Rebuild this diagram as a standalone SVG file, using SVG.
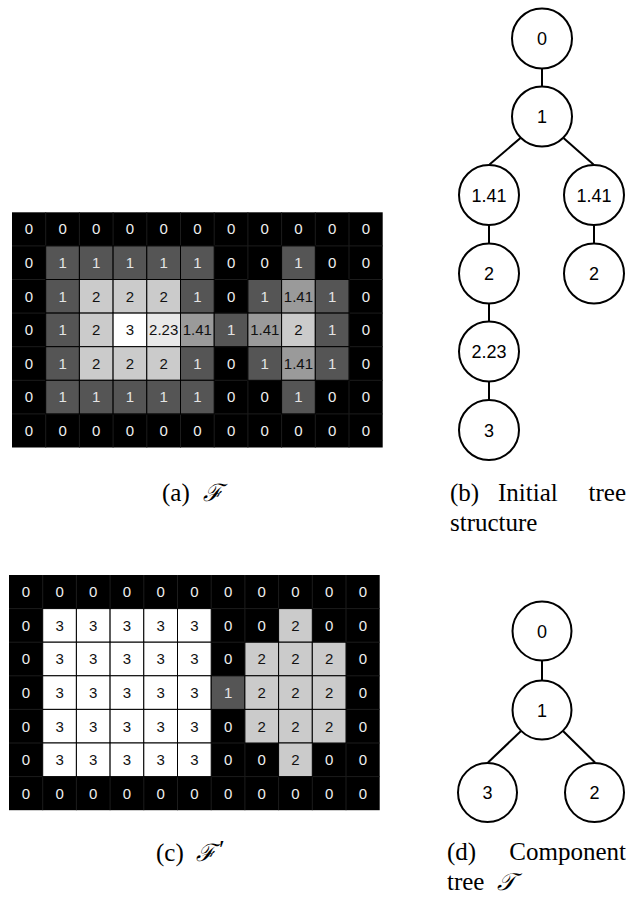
<svg xmlns="http://www.w3.org/2000/svg" width="626" height="898" viewBox="0 0 626 898">
<style>
.bg{fill:#000}
.gl{stroke:#1c1c1c;stroke-width:1}
.k1{fill:#555;stroke:#000;stroke-width:1}
.k141{fill:#9a9a9a;stroke:#000;stroke-width:1}
.k2{fill:#cbcbcb;stroke:#000;stroke-width:1}
.k223{fill:#e9e9e9;stroke:#000;stroke-width:1}
.k3{fill:#fff;stroke:#000;stroke-width:1}
.t{font-family:"Liberation Sans",Arial,sans-serif;font-size:15px;text-anchor:middle}
.tw{fill:#eee}
.tl{fill:#e4e4e4}
.tb{fill:#111}
.node circle{fill:#fff;stroke:#000;stroke-width:2}
.node text{font-family:"Liberation Sans",Arial,sans-serif;font-size:18px;text-anchor:middle;fill:#000}
.edges line{stroke:#000;stroke-width:2}
.cap{font-family:"Liberation Serif","Times New Roman",serif;font-size:25px;fill:#000}
.math{font-family:"DejaVu Serif","Liberation Serif",serif;font-style:italic;font-size:24px;fill:#000}
.prime{font-family:"Liberation Serif","DejaVu Serif",serif;font-size:26px;fill:#000}
</style>

<!-- Grid (a) -->
<g id="gridA" transform="translate(12,212.3)">
<rect class="bg" x="0" y="0" width="370.7" height="235.2"/>
<g class="gl">
<line x1="33.7" y1="0" x2="33.7" y2="235.2"/><line x1="67.4" y1="0" x2="67.4" y2="235.2"/><line x1="101.1" y1="0" x2="101.1" y2="235.2"/><line x1="134.8" y1="0" x2="134.8" y2="235.2"/><line x1="168.5" y1="0" x2="168.5" y2="235.2"/><line x1="202.2" y1="0" x2="202.2" y2="235.2"/><line x1="235.9" y1="0" x2="235.9" y2="235.2"/><line x1="269.6" y1="0" x2="269.6" y2="235.2"/><line x1="303.3" y1="0" x2="303.3" y2="235.2"/><line x1="337" y1="0" x2="337" y2="235.2"/>
<line x1="0" y1="33.6" x2="370.7" y2="33.6"/><line x1="0" y1="67.2" x2="370.7" y2="67.2"/><line x1="0" y1="100.8" x2="370.7" y2="100.8"/><line x1="0" y1="134.4" x2="370.7" y2="134.4"/><line x1="0" y1="168" x2="370.7" y2="168"/><line x1="0" y1="201.6" x2="370.7" y2="201.6"/>
</g>
<rect class="k1" x="33.7" y="33.6" width="33.7" height="33.6"/><rect class="k1" x="67.4" y="33.6" width="33.7" height="33.6"/><rect class="k1" x="101.1" y="33.6" width="33.7" height="33.6"/><rect class="k1" x="134.8" y="33.6" width="33.7" height="33.6"/><rect class="k1" x="168.5" y="33.6" width="33.7" height="33.6"/><rect class="k1" x="269.6" y="33.6" width="33.7" height="33.6"/>
<rect class="k1" x="33.7" y="67.2" width="33.7" height="33.6"/><rect class="k2" x="67.4" y="67.2" width="33.7" height="33.6"/><rect class="k2" x="101.1" y="67.2" width="33.7" height="33.6"/><rect class="k2" x="134.8" y="67.2" width="33.7" height="33.6"/><rect class="k1" x="168.5" y="67.2" width="33.7" height="33.6"/><rect class="k1" x="235.9" y="67.2" width="33.7" height="33.6"/><rect class="k141" x="269.6" y="67.2" width="33.7" height="33.6"/><rect class="k1" x="303.3" y="67.2" width="33.7" height="33.6"/>
<rect class="k1" x="33.7" y="100.8" width="33.7" height="33.6"/><rect class="k2" x="67.4" y="100.8" width="33.7" height="33.6"/><rect class="k3" x="101.1" y="100.8" width="33.7" height="33.6"/><rect class="k223" x="134.8" y="100.8" width="33.7" height="33.6"/><rect class="k141" x="168.5" y="100.8" width="33.7" height="33.6"/><rect class="k1" x="202.2" y="100.8" width="33.7" height="33.6"/><rect class="k141" x="235.9" y="100.8" width="33.7" height="33.6"/><rect class="k2" x="269.6" y="100.8" width="33.7" height="33.6"/><rect class="k1" x="303.3" y="100.8" width="33.7" height="33.6"/>
<rect class="k1" x="33.7" y="134.4" width="33.7" height="33.6"/><rect class="k2" x="67.4" y="134.4" width="33.7" height="33.6"/><rect class="k2" x="101.1" y="134.4" width="33.7" height="33.6"/><rect class="k2" x="134.8" y="134.4" width="33.7" height="33.6"/><rect class="k1" x="168.5" y="134.4" width="33.7" height="33.6"/><rect class="k1" x="235.9" y="134.4" width="33.7" height="33.6"/><rect class="k141" x="269.6" y="134.4" width="33.7" height="33.6"/><rect class="k1" x="303.3" y="134.4" width="33.7" height="33.6"/>
<rect class="k1" x="33.7" y="168" width="33.7" height="33.6"/><rect class="k1" x="67.4" y="168" width="33.7" height="33.6"/><rect class="k1" x="101.1" y="168" width="33.7" height="33.6"/><rect class="k1" x="134.8" y="168" width="33.7" height="33.6"/><rect class="k1" x="168.5" y="168" width="33.7" height="33.6"/><rect class="k1" x="269.6" y="168" width="33.7" height="33.6"/>
<g class="t">
<g class="tw"><text x="16.85" y="22.1">0</text><text x="50.55" y="22.1">0</text><text x="84.25" y="22.1">0</text><text x="117.95" y="22.1">0</text><text x="151.65" y="22.1">0</text><text x="185.35" y="22.1">0</text><text x="219.05" y="22.1">0</text><text x="252.75" y="22.1">0</text><text x="286.45" y="22.1">0</text><text x="320.15" y="22.1">0</text><text x="353.85" y="22.1">0</text></g>
<text class="tw" x="16.85" y="55.7">0</text><text class="tl" x="50.55" y="55.7">1</text><text class="tl" x="84.25" y="55.7">1</text><text class="tl" x="117.95" y="55.7">1</text><text class="tl" x="151.65" y="55.7">1</text><text class="tl" x="185.35" y="55.7">1</text><text class="tw" x="219.05" y="55.7">0</text><text class="tw" x="252.75" y="55.7">0</text><text class="tl" x="286.45" y="55.7">1</text><text class="tw" x="320.15" y="55.7">0</text><text class="tw" x="353.85" y="55.7">0</text>
<text class="tw" x="16.85" y="89.3">0</text><text class="tl" x="50.55" y="89.3">1</text><text class="tb" x="84.25" y="89.3">2</text><text class="tb" x="117.95" y="89.3">2</text><text class="tb" x="151.65" y="89.3">2</text><text class="tl" x="185.35" y="89.3">1</text><text class="tw" x="219.05" y="89.3">0</text><text class="tl" x="252.75" y="89.3">1</text><text class="tb" x="286.45" y="89.3">1.41</text><text class="tl" x="320.15" y="89.3">1</text><text class="tw" x="353.85" y="89.3">0</text>
<text class="tw" x="16.85" y="122.9">0</text><text class="tl" x="50.55" y="122.9">1</text><text class="tb" x="84.25" y="122.9">2</text><text class="tb" x="117.95" y="122.9">3</text><text class="tb" x="151.65" y="122.9">2.23</text><text class="tb" x="185.35" y="122.9">1.41</text><text class="tl" x="219.05" y="122.9">1</text><text class="tb" x="252.75" y="122.9">1.41</text><text class="tb" x="286.45" y="122.9">2</text><text class="tl" x="320.15" y="122.9">1</text><text class="tw" x="353.85" y="122.9">0</text>
<text class="tw" x="16.85" y="156.5">0</text><text class="tl" x="50.55" y="156.5">1</text><text class="tb" x="84.25" y="156.5">2</text><text class="tb" x="117.95" y="156.5">2</text><text class="tb" x="151.65" y="156.5">2</text><text class="tl" x="185.35" y="156.5">1</text><text class="tw" x="219.05" y="156.5">0</text><text class="tl" x="252.75" y="156.5">1</text><text class="tb" x="286.45" y="156.5">1.41</text><text class="tl" x="320.15" y="156.5">1</text><text class="tw" x="353.85" y="156.5">0</text>
<text class="tw" x="16.85" y="190.1">0</text><text class="tl" x="50.55" y="190.1">1</text><text class="tl" x="84.25" y="190.1">1</text><text class="tl" x="117.95" y="190.1">1</text><text class="tl" x="151.65" y="190.1">1</text><text class="tl" x="185.35" y="190.1">1</text><text class="tw" x="219.05" y="190.1">0</text><text class="tw" x="252.75" y="190.1">0</text><text class="tl" x="286.45" y="190.1">1</text><text class="tw" x="320.15" y="190.1">0</text><text class="tw" x="353.85" y="190.1">0</text>
<g class="tw"><text x="16.85" y="223.7">0</text><text x="50.55" y="223.7">0</text><text x="84.25" y="223.7">0</text><text x="117.95" y="223.7">0</text><text x="151.65" y="223.7">0</text><text x="185.35" y="223.7">0</text><text x="219.05" y="223.7">0</text><text x="252.75" y="223.7">0</text><text x="286.45" y="223.7">0</text><text x="320.15" y="223.7">0</text><text x="353.85" y="223.7">0</text></g>
</g>
</g>

<!-- Grid (c) -->
<g id="gridC" transform="translate(9,575)">
<rect class="bg" x="0" y="0" width="370.7" height="235.2"/>
<g class="gl">
<line x1="33.7" y1="0" x2="33.7" y2="235.2"/><line x1="67.4" y1="0" x2="67.4" y2="235.2"/><line x1="101.1" y1="0" x2="101.1" y2="235.2"/><line x1="134.8" y1="0" x2="134.8" y2="235.2"/><line x1="168.5" y1="0" x2="168.5" y2="235.2"/><line x1="202.2" y1="0" x2="202.2" y2="235.2"/><line x1="235.9" y1="0" x2="235.9" y2="235.2"/><line x1="269.6" y1="0" x2="269.6" y2="235.2"/><line x1="303.3" y1="0" x2="303.3" y2="235.2"/><line x1="337" y1="0" x2="337" y2="235.2"/>
<line x1="0" y1="33.6" x2="370.7" y2="33.6"/><line x1="0" y1="67.2" x2="370.7" y2="67.2"/><line x1="0" y1="100.8" x2="370.7" y2="100.8"/><line x1="0" y1="134.4" x2="370.7" y2="134.4"/><line x1="0" y1="168" x2="370.7" y2="168"/><line x1="0" y1="201.6" x2="370.7" y2="201.6"/>
</g>
<rect class="k3" x="33.7" y="33.6" width="33.7" height="33.6"/><rect class="k3" x="67.4" y="33.6" width="33.7" height="33.6"/><rect class="k3" x="101.1" y="33.6" width="33.7" height="33.6"/><rect class="k3" x="134.8" y="33.6" width="33.7" height="33.6"/><rect class="k3" x="168.5" y="33.6" width="33.7" height="33.6"/><rect class="k2" x="269.6" y="33.6" width="33.7" height="33.6"/>
<rect class="k3" x="33.7" y="67.2" width="33.7" height="33.6"/><rect class="k3" x="67.4" y="67.2" width="33.7" height="33.6"/><rect class="k3" x="101.1" y="67.2" width="33.7" height="33.6"/><rect class="k3" x="134.8" y="67.2" width="33.7" height="33.6"/><rect class="k3" x="168.5" y="67.2" width="33.7" height="33.6"/><rect class="k2" x="235.9" y="67.2" width="33.7" height="33.6"/><rect class="k2" x="269.6" y="67.2" width="33.7" height="33.6"/><rect class="k2" x="303.3" y="67.2" width="33.7" height="33.6"/>
<rect class="k3" x="33.7" y="100.8" width="33.7" height="33.6"/><rect class="k3" x="67.4" y="100.8" width="33.7" height="33.6"/><rect class="k3" x="101.1" y="100.8" width="33.7" height="33.6"/><rect class="k3" x="134.8" y="100.8" width="33.7" height="33.6"/><rect class="k3" x="168.5" y="100.8" width="33.7" height="33.6"/><rect class="k1" x="202.2" y="100.8" width="33.7" height="33.6"/><rect class="k2" x="235.9" y="100.8" width="33.7" height="33.6"/><rect class="k2" x="269.6" y="100.8" width="33.7" height="33.6"/><rect class="k2" x="303.3" y="100.8" width="33.7" height="33.6"/>
<rect class="k3" x="33.7" y="134.4" width="33.7" height="33.6"/><rect class="k3" x="67.4" y="134.4" width="33.7" height="33.6"/><rect class="k3" x="101.1" y="134.4" width="33.7" height="33.6"/><rect class="k3" x="134.8" y="134.4" width="33.7" height="33.6"/><rect class="k3" x="168.5" y="134.4" width="33.7" height="33.6"/><rect class="k2" x="235.9" y="134.4" width="33.7" height="33.6"/><rect class="k2" x="269.6" y="134.4" width="33.7" height="33.6"/><rect class="k2" x="303.3" y="134.4" width="33.7" height="33.6"/>
<rect class="k3" x="33.7" y="168" width="33.7" height="33.6"/><rect class="k3" x="67.4" y="168" width="33.7" height="33.6"/><rect class="k3" x="101.1" y="168" width="33.7" height="33.6"/><rect class="k3" x="134.8" y="168" width="33.7" height="33.6"/><rect class="k3" x="168.5" y="168" width="33.7" height="33.6"/><rect class="k2" x="269.6" y="168" width="33.7" height="33.6"/>
<g class="t">
<g class="tw"><text x="16.85" y="22.1">0</text><text x="50.55" y="22.1">0</text><text x="84.25" y="22.1">0</text><text x="117.95" y="22.1">0</text><text x="151.65" y="22.1">0</text><text x="185.35" y="22.1">0</text><text x="219.05" y="22.1">0</text><text x="252.75" y="22.1">0</text><text x="286.45" y="22.1">0</text><text x="320.15" y="22.1">0</text><text x="353.85" y="22.1">0</text></g>
<text class="tw" x="16.85" y="55.7">0</text><text class="tb" x="50.55" y="55.7">3</text><text class="tb" x="84.25" y="55.7">3</text><text class="tb" x="117.95" y="55.7">3</text><text class="tb" x="151.65" y="55.7">3</text><text class="tb" x="185.35" y="55.7">3</text><text class="tw" x="219.05" y="55.7">0</text><text class="tw" x="252.75" y="55.7">0</text><text class="tb" x="286.45" y="55.7">2</text><text class="tw" x="320.15" y="55.7">0</text><text class="tw" x="353.85" y="55.7">0</text>
<text class="tw" x="16.85" y="89.3">0</text><text class="tb" x="50.55" y="89.3">3</text><text class="tb" x="84.25" y="89.3">3</text><text class="tb" x="117.95" y="89.3">3</text><text class="tb" x="151.65" y="89.3">3</text><text class="tb" x="185.35" y="89.3">3</text><text class="tw" x="219.05" y="89.3">0</text><text class="tb" x="252.75" y="89.3">2</text><text class="tb" x="286.45" y="89.3">2</text><text class="tb" x="320.15" y="89.3">2</text><text class="tw" x="353.85" y="89.3">0</text>
<text class="tw" x="16.85" y="122.9">0</text><text class="tb" x="50.55" y="122.9">3</text><text class="tb" x="84.25" y="122.9">3</text><text class="tb" x="117.95" y="122.9">3</text><text class="tb" x="151.65" y="122.9">3</text><text class="tb" x="185.35" y="122.9">3</text><text class="tl" x="219.05" y="122.9">1</text><text class="tb" x="252.75" y="122.9">2</text><text class="tb" x="286.45" y="122.9">2</text><text class="tb" x="320.15" y="122.9">2</text><text class="tw" x="353.85" y="122.9">0</text>
<text class="tw" x="16.85" y="156.5">0</text><text class="tb" x="50.55" y="156.5">3</text><text class="tb" x="84.25" y="156.5">3</text><text class="tb" x="117.95" y="156.5">3</text><text class="tb" x="151.65" y="156.5">3</text><text class="tb" x="185.35" y="156.5">3</text><text class="tw" x="219.05" y="156.5">0</text><text class="tb" x="252.75" y="156.5">2</text><text class="tb" x="286.45" y="156.5">2</text><text class="tb" x="320.15" y="156.5">2</text><text class="tw" x="353.85" y="156.5">0</text>
<text class="tw" x="16.85" y="190.1">0</text><text class="tb" x="50.55" y="190.1">3</text><text class="tb" x="84.25" y="190.1">3</text><text class="tb" x="117.95" y="190.1">3</text><text class="tb" x="151.65" y="190.1">3</text><text class="tb" x="185.35" y="190.1">3</text><text class="tw" x="219.05" y="190.1">0</text><text class="tw" x="252.75" y="190.1">0</text><text class="tb" x="286.45" y="190.1">2</text><text class="tw" x="320.15" y="190.1">0</text><text class="tw" x="353.85" y="190.1">0</text>
<g class="tw"><text x="16.85" y="223.7">0</text><text x="50.55" y="223.7">0</text><text x="84.25" y="223.7">0</text><text x="117.95" y="223.7">0</text><text x="151.65" y="223.7">0</text><text x="185.35" y="223.7">0</text><text x="219.05" y="223.7">0</text><text x="252.75" y="223.7">0</text><text x="286.45" y="223.7">0</text><text x="320.15" y="223.7">0</text><text x="353.85" y="223.7">0</text></g>
</g>
</g>

<!-- Tree (b) connectors -->
<g id="edgesB" class="edges">
<line x1="542" y1="68.5" x2="542" y2="86.5"/>
<line x1="520.5" y1="138" x2="489.5" y2="164.5"/>
<line x1="563.5" y1="138" x2="593.5" y2="164.5"/>
<line x1="489" y1="225" x2="489" y2="243.5"/>
<line x1="594" y1="225" x2="594" y2="243.5"/>
<line x1="489" y1="303.5" x2="489" y2="321.5"/>
<line x1="489" y1="381.5" x2="489" y2="400"/>
</g>
<g id="b0" class="node"><circle cx="542" cy="38.5" r="30"/><text x="542" y="45">0</text></g>
<g id="b1" class="node"><circle cx="542" cy="116.5" r="30"/><text x="542" y="123">1</text></g>
<g id="b141L" class="node"><circle cx="489" cy="195" r="30"/><text x="489" y="201.5">1.41</text></g>
<g id="b141R" class="node"><circle cx="594" cy="195" r="30"/><text x="594" y="201.5">1.41</text></g>
<g id="b2L" class="node"><circle cx="489" cy="273.5" r="30"/><text x="489" y="280">2</text></g>
<g id="b2R" class="node"><circle cx="594" cy="273.5" r="30"/><text x="594" y="280">2</text></g>
<g id="b223" class="node"><circle cx="489" cy="351.5" r="30"/><text x="489" y="358">2.23</text></g>
<g id="b3" class="node"><circle cx="489" cy="430" r="30"/><text x="489" y="436.5">3</text></g>

<!-- Tree (d) connectors -->
<g id="edgesD" class="edges">
<line x1="542" y1="661" x2="542" y2="680"/>
<line x1="521" y1="731" x2="488" y2="762.5"/>
<line x1="563" y1="731" x2="595" y2="762.5"/>
</g>
<g id="d0" class="node"><circle cx="542" cy="631" r="29.5"/><text x="542" y="637.5">0</text></g>
<g id="d1" class="node"><circle cx="542" cy="710" r="29.5"/><text x="542" y="716.5">1</text></g>
<g id="d3" class="node"><circle cx="487.5" cy="792.5" r="29.5"/><text x="487.5" y="799">3</text></g>
<g id="d2" class="node"><circle cx="594.5" cy="792.5" r="29.5"/><text x="594.5" y="799">2</text></g>

<!-- Captions -->
<g id="captions">
<text class="cap" x="162" y="501">(a)</text><text class="math" x="203" y="501">ℱ</text>
<text class="cap" x="450" y="501">(b)</text><text class="cap" x="498" y="501">Initial</text><text class="cap" x="626" y="501" text-anchor="end">tree</text>
<text class="cap" x="450" y="531">structure</text>
<text class="cap" x="156" y="861">(c)</text><text class="math" x="196" y="861">ℱ</text><text class="prime" x="219" y="858">′</text>
<text class="cap" x="447" y="860">(d)</text><text class="cap" x="626" y="860" text-anchor="end">Component</text>
<text class="cap" x="447" y="890">tree</text><text class="math" x="497" y="890">𝒯</text>
</g>
</svg>
